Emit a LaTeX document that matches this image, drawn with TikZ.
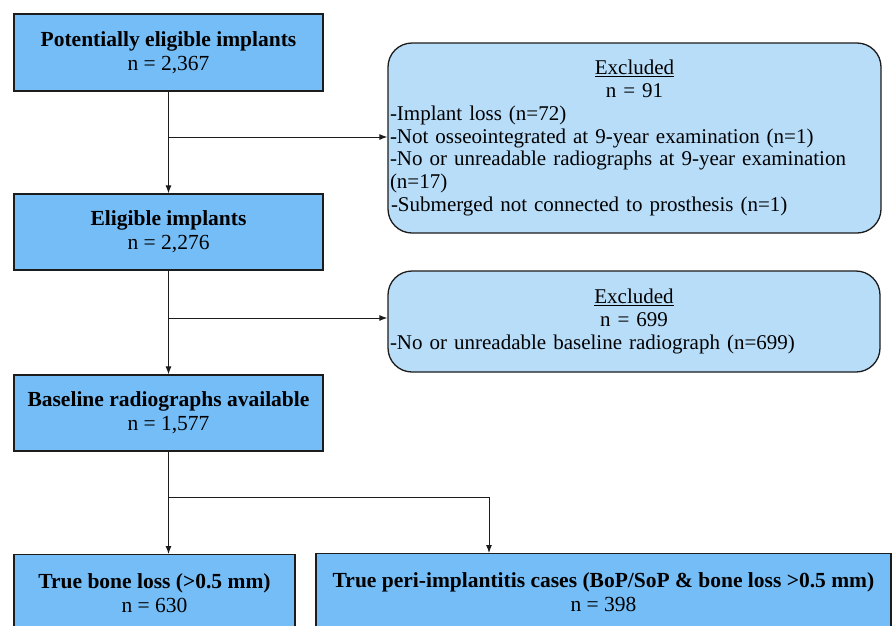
\documentclass[tikz,border=0pt]{standalone}
\usepackage{fontspec}
\setmainfont{Liberation Serif}
\usetikzlibrary{arrows.meta,positioning,calc}
\definecolor{boxblue}{HTML}{74BDF7}
\definecolor{exblue}{HTML}{B8DDF9}
\definecolor{edge}{HTML}{1C1C1C}
\tikzset{
  mainbox/.style={draw=edge, line width=1.3pt, fill=boxblue, minimum height=77pt, inner sep=0pt,
    align=center, font=\fontsize{21.5}{24}\selectfont},
  exbox/.style={draw=edge, line width=1.3pt, fill=exblue, rounded corners=24pt, inner sep=2pt,
    font=\fontsize{21}{22.7}\selectfont},
  arr/.style={draw=edge, line width=1pt, -{Latex[length=8pt,width=6pt]}},
  ln/.style={draw=edge, line width=1pt}
}
\begin{document}
\begin{tikzpicture}[x=1pt,y=-1pt]
\useasboundingbox (0,0) rectangle (894,625);
\clip (0,0) rectangle (894,625);
\fill[white] (0,0) rectangle (894,625);
\node[mainbox, minimum width=309pt] (b1) at (168.5,52.5) {\textbf{Potentially eligible implants}\\n = 2,367};
\node[mainbox, minimum width=309pt, minimum height=76pt] (b2) at (168.5,232) {\textbf{Eligible implants}\\n = 2,276};
\node[mainbox, minimum width=309pt, minimum height=76pt] (b3) at (168.5,413) {\textbf{Baseline radiographs available}\\n = 1,577};
\node[mainbox, minimum width=281pt, anchor=north] (b4) at (154.5,554) {\textbf{True bone loss (>0.5 mm)}\\n = 630};
\node[mainbox, minimum width=575pt, anchor=north] (b5) at (603.5,553) {\textbf{True peri-implantitis cases (BoP/SoP \& bone loss >0.5 mm)}\\n = 398};
\node[exbox, minimum width=493pt, minimum height=190pt, text width=489pt] (e1) at (634.5,138) {%
  \centering\underline{Excluded}\\ n = 91\par
  \raggedright -Implant loss (n=72)\\
  -Not osseointegrated at 9-year examination (n=1)\\
  -No or unreadable radiographs at 9-year examination\\
  (n=17)\\
  \hspace*{1pt}-Submerged not connected to prosthesis (n=1)\par};
\node[exbox, minimum width=492pt, minimum height=101pt, text width=488pt] (e2) at (634,321.5) {%
  \centering\underline{Excluded}\\ n = 699\par
  \raggedright -No or unreadable baseline radiograph (n=699)\par};
\coordinate (j1) at (b1.south |- 0,137);
\coordinate (j2) at (b2.south |- 0,318);
\coordinate (j3) at (b3.south |- 0,497);
\coordinate (t5) at (489,553);
\draw[arr] (b1.south) -- (b2.north);
\draw[arr] (j1) -- (j1 -| e1.west);
\draw[arr] (b2.south) -- (b3.north);
\draw[arr] (j2) -- (j2 -| e2.west);
\draw[arr] (b3.south) -- (b4.north -| b3.south);
\draw[arr] (j3) -| (t5);
\end{tikzpicture}
\end{document}
